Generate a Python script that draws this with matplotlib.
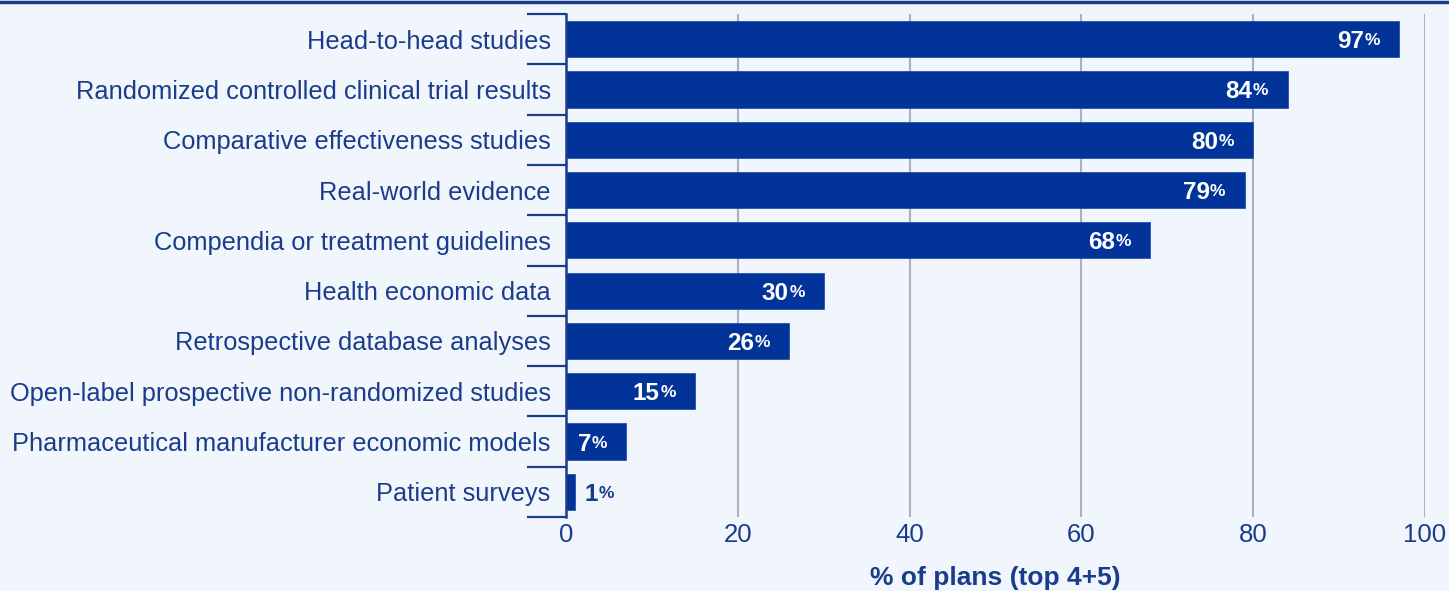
import matplotlib
matplotlib.use("Agg")
import matplotlib.pyplot as plt
from matplotlib.lines import Line2D
from matplotlib.transforms import offset_copy
import numpy as np

categories = [
    "Head-to-head studies",
    "Randomized controlled clinical trial results",
    "Comparative effectiveness studies",
    "Real-world evidence",
    "Compendia or treatment guidelines",
    "Health economic data",
    "Retrospective database analyses",
    "Open-label prospective non-randomized studies",
    "Pharmaceutical manufacturer economic models",
    "Patient surveys",
]
values = [97, 84, 80, 79, 68, 30, 26, 15, 7, 1]
xticks = [0, 20, 40, 60, 80, 100]
xlabel = "% of plans (top 4+5)"

BG = "#f0f6fb"
BAR = "#023399"
NAVY = "#1b3c8c"
GRID = "#a9b1bf"

plt.rcParams['font.family'] = ['Liberation Sans', 'DejaVu Sans']

fig = plt.figure(figsize=(14.49, 5.91), dpi=100, facecolor=BG)
ax = fig.add_axes([566/1449, 1-517/591, (1425-566)/1449, (517-14)/591])
ax.set_facecolor(BG)

y = np.arange(len(categories))
ax.barh(y, values, height=0.72, color=BAR, edgecolor="#2a4fa8", linewidth=0.6, zorder=3)

ax.set_ylim(len(categories) - 0.5, -0.5)
ax.set_xlim(0, 100)

ax.set_yticks(y)
ax.set_yticklabels(categories, fontsize=18.3, color=NAVY)
ax.tick_params(axis='y', which='major', length=0, pad=11)
ax.set_yticks(np.arange(-0.5, len(categories), 1.0), minor=True)
ax.tick_params(axis='y', which='minor', length=28, width=1.6, color=NAVY)

ax.set_xticks(xticks)
ax.set_xticklabels([str(t) for t in xticks], fontsize=18.5, color=NAVY)
ax.tick_params(axis='x', length=0, pad=4)

for t in xticks[1:]:
    ax.axvline(t, color=GRID, linewidth=1.5, zorder=1)

for s in ['top', 'right', 'bottom']:
    ax.spines[s].set_visible(False)
ax.spines['left'].set_color(NAVY)
ax.spines['left'].set_linewidth(1.8)
ax.spines['left'].set_zorder(4)

ax.set_xlabel(xlabel, fontsize=19, fontweight='bold', color=NAVY, labelpad=14)

renderer = fig.canvas.get_renderer()
NUM_FS = 17.5
PCT_FS = 12.5
BASE_DY = -9  # px, baseline offset from bar center
PCT_DY = BASE_DY + 3

for yi, v in zip(y, values):
    if v >= 5:
        tp = ax.text(v, yi, "%", transform=offset_copy(ax.transData, fig=fig, x=-19, y=PCT_DY, units='dots'),
                     ha='right', va='baseline', fontsize=PCT_FS, fontweight='bold', color='white', zorder=5)
        w = tp.get_window_extent(renderer).width
        ax.text(v, yi, f"{v}", transform=offset_copy(ax.transData, fig=fig, x=-19 - w - 0.5, y=BASE_DY, units='dots'),
                ha='right', va='baseline', fontsize=NUM_FS, fontweight='bold', color='white', zorder=5)
    else:
        tn = ax.text(v, yi, f"{v}", transform=offset_copy(ax.transData, fig=fig, x=10, y=BASE_DY, units='dots'),
                     ha='left', va='baseline', fontsize=NUM_FS, fontweight='bold', color=NAVY, zorder=5)
        w = tn.get_window_extent(renderer).width
        ax.text(v, yi, "%", transform=offset_copy(ax.transData, fig=fig, x=10 + w + 0.5, y=PCT_DY, units='dots'),
                ha='left', va='baseline', fontsize=PCT_FS, fontweight='bold', color=NAVY, zorder=5)

# top border line
fig.add_artist(Line2D([0, 1], [1 - 1.5/591, 1 - 1.5/591], transform=fig.transFigure,
                      color=NAVY, linewidth=2.5))

fig.savefig("out.png", dpi=100, facecolor=BG)
